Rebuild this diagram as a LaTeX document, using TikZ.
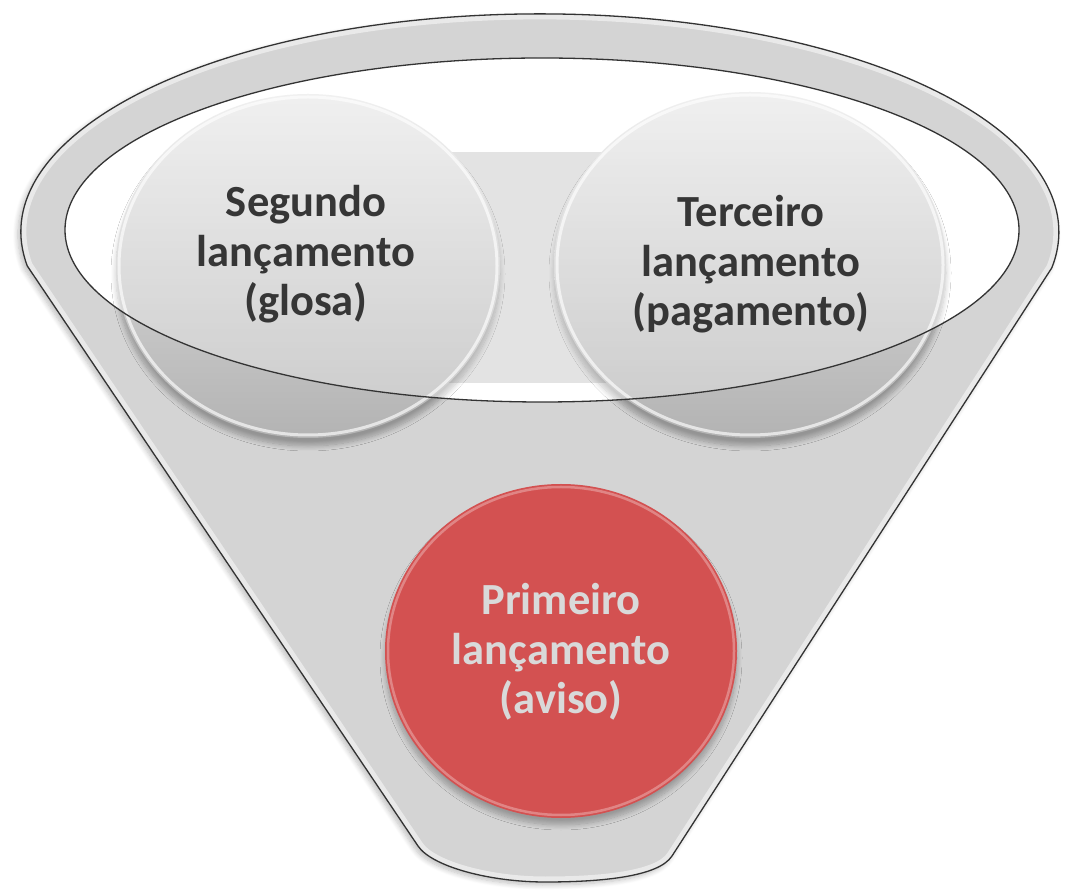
\documentclass[tikz,border=0pt]{standalone}
\usepackage{fontspec}
\setmainfont{Carlito}
\usetikzlibrary{shapes.geometric,shadows.blur}
\definecolor{bodygray}{HTML}{D4D4D4}
\definecolor{hilite}{HTML}{E9E9E9}
\definecolor{edgeline}{HTML}{333333}
\definecolor{rectgray}{HTML}{D7D7D7}
\definecolor{circtop}{HTML}{EAEAEA}
\definecolor{circbot}{HTML}{B3B3B3}
\definecolor{redfill}{HTML}{D35151}
\definecolor{txtdark}{HTML}{363636}
\definecolor{txtlight}{HTML}{D9D9D9}
\newcommand\threelines[3]{\begin{tabular}[t]{@{}c@{}}#1\\#2\\#3\end{tabular}}
\begin{document}
\begin{tikzpicture}[x=1pt,y=1pt,
  outline/.style={draw=edgeline,line width=1.3pt},
  graycirc/.style={ellipse,inner sep=0pt,top color=circtop,bottom color=circbot,
    blur shadow={shadow xshift=0pt,shadow yshift=-8pt,shadow opacity=30,shadow blur radius=5pt,shadow blur steps=10}},
  redcirc/.style={ellipse,inner sep=0pt,fill=redfill,
    blur shadow={shadow xshift=0pt,shadow yshift=-7pt,shadow opacity=28,shadow blur radius=5pt,shadow blur steps=10}},
  lbl/.style={inner sep=0pt,anchor=base,font=\fontsize{44.5}{49.5}\selectfont\bfseries},
  rim/.style={draw=white,line width=3pt,opacity=0.65}]
\useasboundingbox (0,0) rectangle (1065,889);
\coordinate (L) at (27.3,623);
\coordinate (BL) at (418,43);
\coordinate (B) at (545,7);
\coordinate (BR) at (672,33);
\def\funnelpath{(L) arc[start angle=189,end angle=-9.5,x radius=519,y radius=218]
  -- (BR) .. controls (658.4,12) and (600,7) .. (B)
  .. controls (490,7) and (432,22.3) .. (BL) -- cycle}
% funnel body
\path[fill=bodygray,blur shadow={shadow xshift=-3pt,shadow yshift=-3pt,shadow opacity=25,shadow blur radius=5pt,shadow blur steps=8}] \funnelpath;
\begin{scope}
  \clip \funnelpath;
  \draw[hilite,line width=11pt] \funnelpath;
\end{scope}
\draw[outline] \funnelpath;
% inner opening
\fill[white] (542,659) ellipse[x radius=477,y radius=172];
\fill[rectgray] (400,506) rectangle (690,737);
% upper circles
\node[graycirc,minimum width=384pt,minimum height=344pt] (c2) at (308,623) {};
\node[graycirc,minimum width=392pt,minimum height=346pt] (c3) at (750,624) {};
\draw[rim] (c2.center) ellipse[x radius=189,y radius=169];
\draw[rim] (c3.center) ellipse[x radius=193,y radius=170];
% glassy overlay of the opening
\fill[white,opacity=0.3] (542,659) ellipse[x radius=477,y radius=172];
\draw[outline] (542,659) ellipse[x radius=477,y radius=172];
% lower circle
\node[redcirc,minimum width=352pt,minimum height=334pt] (c1) at (561,238) {};
\draw[draw=white,line width=2.5pt,opacity=0.3] (c1.center) ellipse[x radius=173,y radius=164];
% texts
\node[lbl,text=txtdark] (t2) at (306,672) {\threelines{Segundo}{lançamento}{(glosa)}};
\node[lbl,text=txtdark] (t3) at (751,662) {\threelines{Terceiro}{lançamento}{(pagamento)}};
\node[lbl,text=txtlight] (t1) at (561,274) {\threelines{Primeiro}{lançamento}{(aviso)}};
\end{tikzpicture}
\end{document}
